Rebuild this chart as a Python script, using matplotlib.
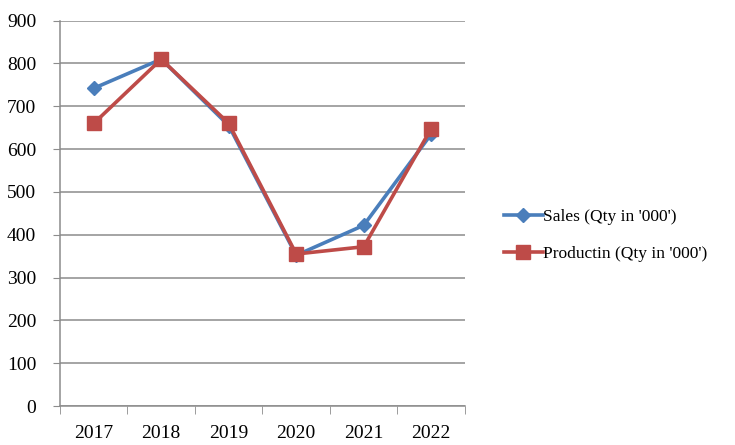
import matplotlib.pyplot as plt
import numpy as np

plt.rcParams['font.family'] = ['Liberation Serif', 'DejaVu Serif']

years = ['2017', '2018', '2019', '2020', '2021', '2022']
sales = [742, 810, 655, 352, 422, 635]
production = [660, 810, 660, 355, 372, 648]

fig = plt.figure(figsize=(7.35, 4.45), dpi=100)
ax = fig.add_axes([0.0816, 0.0876, 0.551, 0.866])

x = np.arange(len(years))
ax.plot(x, sales, color='#4a7ebb', lw=2.6, marker='D', ms=7,
        label="Sales (Qty in '000')", zorder=3)
ax.plot(x, production, color='#be4b48', lw=2.6, marker='s', ms=10,
        label="Productin (Qty in '000')", zorder=3)

ax.set_xlim(-0.5, len(years) - 0.5)
ax.set_ylim(0, 900)
ax.set_yticks(range(0, 901, 100))
ax.yaxis.grid(True, color='#8c8c8c', lw=1.1)
ax.set_axisbelow(True)

# category labels centred, tick marks between categories
ax.set_xticks(x)
ax.set_xticklabels(years)
ax.set_xticks(np.arange(-0.5, len(years)), minor=True)
ax.tick_params(axis='x', which='major', length=0, pad=14, labelsize=14)
ax.tick_params(axis='x', which='minor', length=6, color='#8c8c8c', direction='out')
ax.tick_params(axis='y', length=5, color='#8c8c8c', labelsize=14, pad=12)

for s in ['top', 'right']:
    ax.spines[s].set_visible(False)
for s in ['left', 'bottom']:
    ax.spines[s].set_color('#8c8c8c')
    ax.spines[s].set_linewidth(1.1)

fig.legend(loc='center left', bbox_to_anchor=(0.665, 0.47), frameon=False,
           fontsize=12.5, handlelength=2.2, handletextpad=0.0, labelspacing=1.2)

fig.savefig('out.png', dpi=100)
